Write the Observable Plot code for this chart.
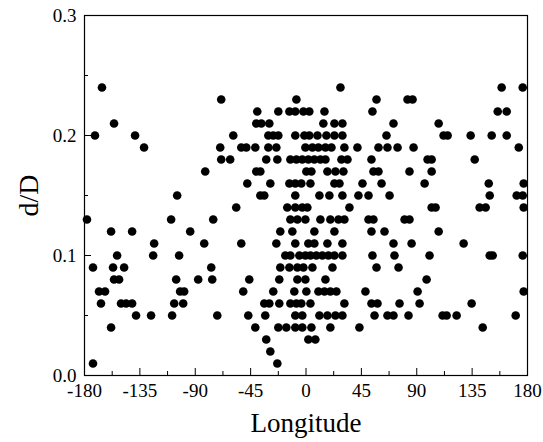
<!DOCTYPE html>
<html>
<head>
<meta charset="utf-8">
<script src="https://cdn.jsdelivr.net/npm/d3@7"></script>
<script src="https://cdn.jsdelivr.net/npm/@observablehq/plot@0.6"></script>
<style>
  html, body { margin: 0; padding: 0; background: white; }
  svg text { font-family: "Liberation Serif", "DejaVu Serif", serif; }
</style>
</head>
<body>
<div id="chart"></div>
<script>
// d/D levels (rows) and the longitudes of the points found on each row
const ratioLevels = [0.24, 0.23, 0.22, 0.21, 0.20, 0.19, 0.18, 0.17, 0.16, 0.15, 0.14, 0.13, 0.12, 0.11, 0.10, 0.09, 0.08, 0.07, 0.06, 0.05, 0.04, 0.03, 0.02, 0.01];
const longitudes = [
  [-165.8, 28.0, 159.0, 176.1],
  [-68.9, -7.8, 57.3, 82.5, 86.6],
  [-39.6, -22.5, -13.5, -8.7, -2.1, 2.7, 15.0, 54.0, 155.8, 163.1],
  [-156.0, -40.4, -36.3, -29.8, 14.1, 23.1, 29.6, 71.1, 107.8],
  [-171.5, -138.9, -59.1, -30.6, -26.6, -22.5, -8.7, -1.3, 2.7, 9.3, 16.6, 23.1, 29.6, 65.4, 111.8, 115.1, 133.8, 150.9, 163.1],
  [-131.6, -69.7, -52.6, -48.5, -41.2, -30.6, -24.1, -0.5, 5.2, 10.1, 15.8, 20.7, 31.2, 41.8, 58.9, 66.2, 74.4, 87.4, 172.9],
  [-68.9, -61.6, -32.3, -23.3, -12.7, -7.8, -3.0, 1.9, 6.8, 11.7, 15.8, 28.8, 33.7, 53.2, 98.8, 102.1, 137.1],
  [-81.9, -40.4, -37.1, 0.3, 4.4, 17.4, 23.9, 30.4, 54.8, 58.9, 84.1, 102.1],
  [-47.7, -29.0, -13.5, -8.7, -3.8, 3.6, 23.1, 27.2, 45.9, 61.4, 96.4, 148.5, 176.9],
  [-104.7, -37.1, -33.9, -8.7, 10.9, 19.0, 29.6, 42.6, 50.8, 67.9, 149.3, 171.2, 176.1],
  [-56.7, -15.2, -8.7, -3.0, 1.1, 35.3, 102.1, 105.3, 141.1, 146.0, 176.9],
  [-178.0, -109.6, -75.4, -12.7, -7.0, -0.5, 11.7, 19.8, 26.4, 31.2, 50.8, 54.8, 80.1, 84.1],
  [-158.4, -141.3, -94.1, -20.9, -11.1, 6.8, 23.1, 53.2, 63.8, 107.8],
  [-123.4, -82.7, -52.6, -24.1, -8.7, 1.9, 6.8, 17.4, 29.6, 71.1, 85.8, 128.1],
  [-153.5, -124.2, -103.1, -16.8, -12.7, -5.4, -0.5, 3.6, 8.4, 13.3, 18.2, 23.1, 29.6, 54.0, 71.9, 100.4, 149.3, 151.7, 176.1],
  [-173.1, -156.8, -147.8, -77.0, -20.9, -13.5, -7.0, -2.1, 5.2, 21.5, 57.3, 75.2],
  [-156.0, -151.9, -105.5, -87.6, -76.2, -46.1, -21.7, -7.0, -0.5, 15.8, 98.0],
  [-168.2, -163.3, -102.3, -99.0, -51.0, -26.6, -9.5, 0.3, 10.1, 15.0, 19.8, 24.7, 48.3, 90.7, 176.9],
  [-166.6, -150.3, -146.2, -141.3, -107.1, -99.8, -33.9, -29.8, -21.7, -12.7, -7.8, -3.8, 3.6, 31.2, 53.2, 58.1, 76.0, 92.3, 134.6],
  [-138.1, -125.9, -108.8, -72.1, -46.9, -33.1, -8.7, -3.0, 10.9, 17.4, 23.9, 29.6, 55.7, 66.2, 71.1, 83.3, 111.0, 114.3, 122.4, 170.4],
  [-158.4, -41.2, -22.5, -16.0, -8.7, -3.0, 4.4, 19.8, 43.4, 143.6],
  [-32.3, 1.9, 7.6],
  [-29.0],
  [-173.1, -23.3]
];

const xMajorTicks = [-180, -135, -90, -45, 0, 45, 90, 135, 180];
const xMinorTicks = [-157.5, -112.5, -67.5, -22.5, 22.5, 67.5, 112.5, 157.5];
const yMajorTicks = [0.0, 0.1, 0.2, 0.3];
const yMinorTicks = [0.05, 0.15, 0.25];

const points = ratioLevels.flatMap((r, i) => longitudes[i].map(lon => ({lon, r})));
const serif = "Liberation Serif";

const chart = Plot.plot({
  width: 543,
  height: 442,
  marginLeft: 84,
  marginRight: 16,
  marginTop: 15,
  marginBottom: 67,
  x: {domain: [-180, 180]},
  y: {domain: [0, 0.3]},
  style: {fontFamily: serif, fontSize: "19px", color: "black", background: "white"},
  marks: [
    Plot.dot(points, {x: "lon", y: "r", r: 4.3, fill: "black", stroke: null}),
    Plot.frame({stroke: "black", strokeWidth: 1.2}),
    Plot.axisX({ticks: xMajorTicks, tickSize: -7, tickPadding: 15, tickFormat: d => String(d), label: null, fontSize: 19, fontFamily: serif}),
    Plot.axisX({ticks: xMinorTicks, tickSize: -4, tickFormat: () => "", label: null}),
    Plot.axisY({ticks: yMajorTicks, tickSize: -7, tickPadding: 15, tickFormat: d => d.toFixed(1), label: null, fontSize: 19, fontFamily: serif}),
    Plot.axisY({ticks: yMinorTicks, tickSize: -4, tickFormat: () => "", label: null}),
    Plot.text(["Longitude"], {frameAnchor: "bottom", dy: 48, lineAnchor: "middle", textAnchor: "middle", fontSize: 27, fontFamily: serif, fill: "black"}),
    Plot.text(["d/D"], {frameAnchor: "left", dx: -55, rotate: -90, lineAnchor: "middle", textAnchor: "middle", fontSize: 28, fontFamily: serif, fill: "black"})
  ]
});
document.getElementById("chart").appendChild(chart);
</script>
</body>
</html>
